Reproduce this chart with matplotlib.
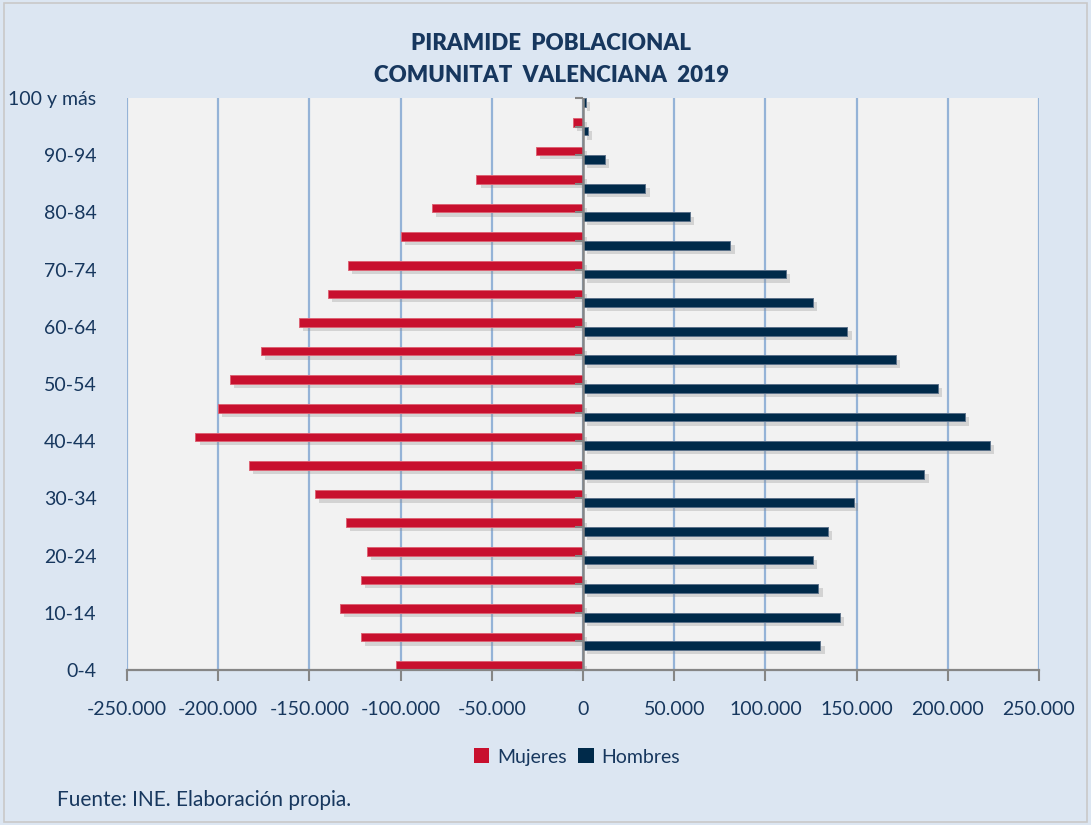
import numpy as np
import matplotlib
matplotlib.use("Agg")
import matplotlib.pyplot as plt
import matplotlib.patheffects as pe
from matplotlib.patches import Patch, Rectangle
from matplotlib.ticker import FuncFormatter

plt.rcParams['font.family'] = ['Lato', 'DejaVu Sans']

# age groups, bottom to top
grupos = ['0-4', '5-9', '10-14', '15-19', '20-24', '25-29', '30-34', '35-39',
          '40-44', '45-49', '50-54', '55-59', '60-64', '65-69', '70-74',
          '75-79', '80-84', '85-89', '90-94', '95-99', '100 y más']

mujeres = [-102600, -121800, -133400, -121800, -118500, -130200, -147100,
           -183000, -212500, -200000, -193600, -176700, -155700, -139700,
           -129000, -99800, -82800, -58400, -25600, -5500, -1000]
hombres = [110300, 130200, 140800, 129100, 126000, 134400, 148400,
           187200, 223100, 209500, 194700, 171400, 145000, 126000,
           111400, 80800, 58600, 34200, 12100, 2600, 1500]

xticks = [-250000, -200000, -150000, -100000, -50000, 0,
          50000, 100000, 150000, 200000, 250000]

rojo = '#c8102e'
azul = '#002a4a'
texto = '#17375e'
fondo = '#dce6f2'

fig = plt.figure(figsize=(10.91, 8.25), dpi=100, facecolor=fondo)
fig.patches.append(Rectangle((0.004, 0.004), 0.992, 0.992, transform=fig.transFigure,
                             fill=False, edgecolor='#c9c9c9', linewidth=1.2))
ax = fig.add_axes([127 / 1091, 155 / 825, 912 / 1091, 572 / 825])
ax.set_facecolor('#f2f2f2')

y = np.arange(len(grupos))
sombra = [pe.SimplePatchShadow(offset=(3, -3), shadow_rgbFace='#8c8c8c', alpha=0.3),
          pe.Normal()]

bm = ax.barh(y, mujeres, height=0.30, align='edge', color=rojo,
             edgecolor='#dc6475', linewidth=0.7, zorder=3)
bh = ax.barh(y, hombres, height=-0.31, align='edge', color=azul,
             edgecolor='#5b7189', linewidth=0.7, zorder=3)
for b in list(bm) + list(bh):
    b.set_path_effects(sombra)

ax.set_xlim(-250000, 250000)
ax.set_ylim(0, len(grupos) - 1)

ax.set_xticks(xticks)
ax.xaxis.set_major_formatter(FuncFormatter(lambda v, p: f"{int(v):,}".replace(',', '.')))
ax.tick_params(axis='x', length=8, width=1.5, color='#868686', pad=14,
               labelsize=14, labelcolor=texto)
ax.grid(axis='x', color='#95b3d7', linewidth=1.6, zorder=1)
ax.set_axisbelow(True)

ax.set_yticks(y[::2])
ax.set_yticklabels(grupos[::2])
ax.tick_params(axis='y', length=0, pad=22, labelsize=14, labelcolor=texto)

for s in ['top', 'left', 'right']:
    ax.spines[s].set_visible(False)
ax.spines['bottom'].set_color('#868686')
ax.spines['bottom'].set_linewidth(1.6)
ax.spines['bottom'].set_zorder(4)

# vertical axis at zero with category tick marks
ax.axvline(0, color='#868686', linewidth=1.8, zorder=4)
ax.plot(np.zeros(len(grupos)), y, ls='none', marker=0, markersize=6,
        markeredgewidth=1.5, color='#868686', zorder=4, clip_on=False)

fig.text(551 / 1091, 1 - 43 / 825, 'PIRAMIDE  POBLACIONAL', ha='center', va='center',
         fontsize=16, fontweight='heavy', color=texto)
fig.text(551 / 1091, 1 - 75 / 825, 'COMUNITAT  VALENCIANA  2019', ha='center', va='center',
         fontsize=16, fontweight='heavy', color=texto)

handles = [Patch(facecolor=rojo), Patch(facecolor=azul)]
fig.legend(handles, ['Mujeres', 'Hombres'], loc='center', bbox_to_anchor=(577 / 1091, 1 - 757 / 825),
           ncol=2, frameon=False, fontsize=14, handlelength=0.8, handleheight=0.8,
           handletextpad=0.4, columnspacing=0.6, labelcolor=texto)

fig.text(57 / 1091, 1 - 800 / 825, 'Fuente: INE. Elaboración propia.', ha='left', va='center',
         fontsize=15, color=texto)

fig.savefig('out.png', dpi=100, facecolor=fondo)
